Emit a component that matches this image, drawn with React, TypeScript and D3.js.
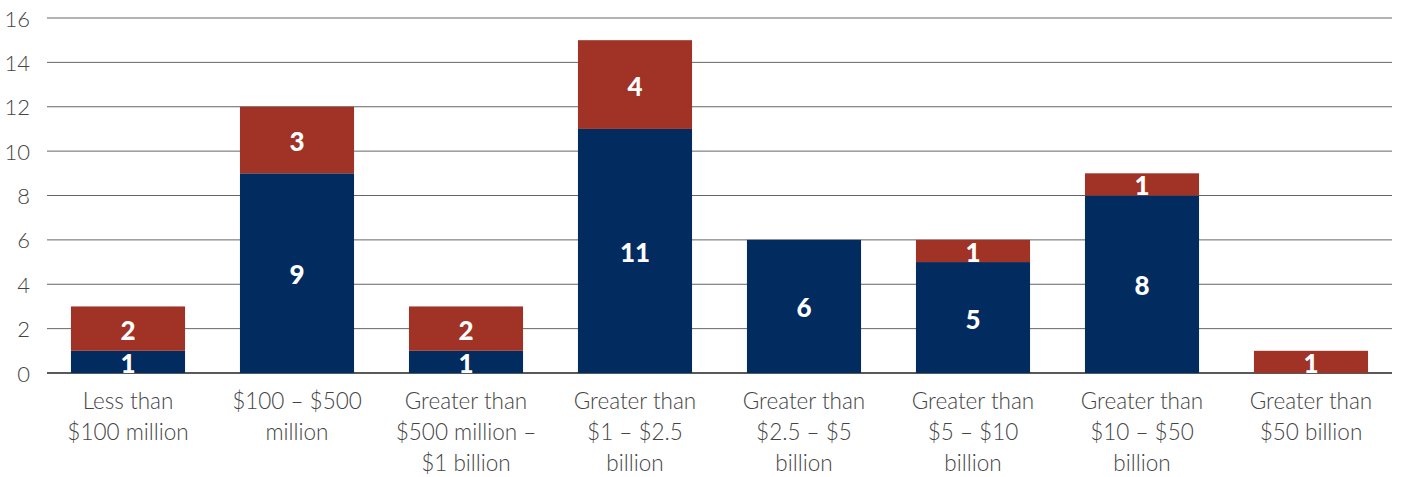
import React from "react";
import * as d3 from "d3";

const categories = [
  ["Less than", "$100 million"],
  ["$100 – $500", "million"],
  ["Greater than", "$500 million –", "$1 billion"],
  ["Greater than", "$1 – $2.5", "billion"],
  ["Greater than", "$2.5 – $5", "billion"],
  ["Greater than", "$5 – $10", "billion"],
  ["Greater than", "$10 – $50", "billion"],
  ["Greater than", "$50 billion"],
];
const blueValues = [1, 9, 1, 11, 6, 5, 8, 0];
const redValues = [2, 3, 2, 4, 0, 1, 1, 1];
const yTicks = [0, 2, 4, 6, 8, 10, 12, 14, 16];

const BLUE = "#022b5f";
const RED = "#a03226";
const labelFont = "'Source Sans Pro', Lato, 'Open Sans', sans-serif";

export default function App() {
  const width = 1401;
  const height = 477;

  const x = d3.scaleBand<number>()
    .domain(categories.map((_, i) => i))
    .range([43.5, 1395.5])
    .paddingInner(0.325)
    .paddingOuter(0.1625);

  const y = d3.scaleLinear().domain([0, 16]).range([373, 18]);

  const segs: { i: number; y0: number; y1: number; v: number; color: string }[] = [];
  categories.forEach((_, i) => {
    const b = blueValues[i];
    const r = redValues[i];
    if (b > 0) segs.push({ i, y0: 0, y1: b, v: b, color: BLUE });
    if (r > 0) segs.push({ i, y0: b, y1: b + r, v: r, color: RED });
  });

  return (
    <svg width={width} height={height} style={{ position: "absolute", left: 0, top: 0 }}>
      {yTicks.map((t) => (
        <g key={t}>
          <line
            x1={47}
            x2={1392}
            y1={y(t)}
            y2={y(t)}
            stroke={t === 0 ? "#222" : "#666"}
            strokeWidth={t === 0 ? 1.5 : 1}
          />
          <text
            x={30}
            y={y(t)}
            textAnchor="end"
            dominantBaseline="central"
            fontFamily={labelFont}
            fontWeight={300}
            fontSize={22}
            fill="#444"
          >
            {t}
          </text>
        </g>
      ))}
      {segs.map((s, k) => (
        <g key={k}>
          <rect
            x={x(s.i)}
            y={y(s.y1)}
            width={x.bandwidth()}
            height={y(s.y0) - y(s.y1)}
            fill={s.color}
          />
          <text
            x={(x(s.i) as number) + x.bandwidth() / 2}
            y={(y(s.y0) + y(s.y1)) / 2 + 1}
            textAnchor="middle"
            dominantBaseline="central"
            fontFamily={labelFont}
            fontWeight={900}
            fontSize={26}
            fill="#fff"
          >
            {s.v}
          </text>
        </g>
      ))}
      {categories.map((lines, i) => (
        <text
          key={i}
          x={(x(i) as number) + x.bandwidth() / 2}
          y={409}
          textAnchor="middle"
          fontFamily={labelFont}
          fontWeight={300}
          fontSize={22.5}
          fill="#444"
        >
          {lines.map((l, j) => (
            <tspan key={j} x={(x(i) as number) + x.bandwidth() / 2} dy={j === 0 ? 0 : 31}>
              {l}
            </tspan>
          ))}
        </text>
      ))}
    </svg>
  );
}
